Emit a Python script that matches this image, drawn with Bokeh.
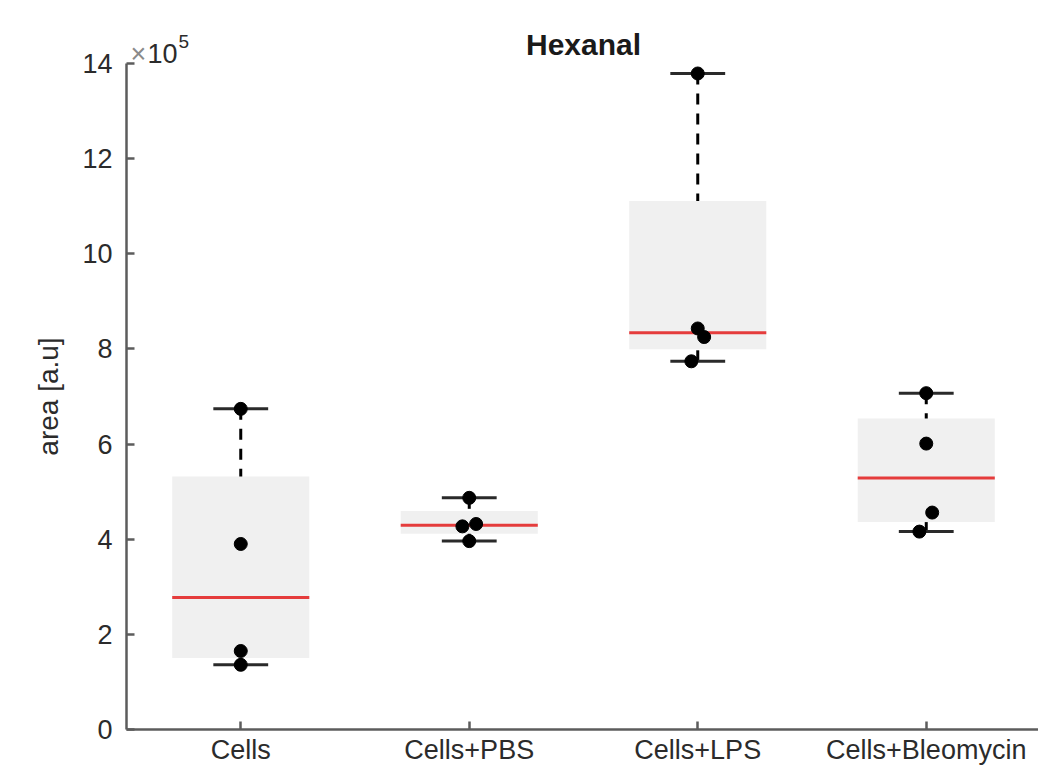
import numpy as np
from bokeh.plotting import figure
from bokeh.models import FixedTicker, Label, ColumnDataSource
from bokeh.embed import file_html
from bokeh.resources import INLINE

# ---- data (area in units of 1e5 a.u.) ----
categories = ["Cells", "Cells+PBS", "Cells+LPS", "Cells+Bleomycin"]
cells = [6.74, 3.90, 1.65, 1.36]
cells_pbs = [4.87, 4.32, 4.27, 3.96]
cells_lps = [13.79, 8.43, 8.25, 7.74]
cells_bleo = [7.07, 6.01, 4.56, 4.16]
# horizontal jitter of the individual points (category units)
jitter_cells = [0.0, 0.0, 0.0, 0.0]
jitter_pbs = [0.0, 0.03, -0.03, 0.0]
jitter_lps = [0.0, 0.0, 0.028, -0.028]
jitter_bleo = [0.0, 0.0, 0.026, -0.03]
y_ticks = [0, 2, 4, 6, 8, 10, 12, 14]

groups = [cells, cells_pbs, cells_lps, cells_bleo]
jitters = [jitter_cells, jitter_pbs, jitter_lps, jitter_bleo]


def mprctile(v, pct):
    s = sorted(v)
    n = len(s)
    pos = [100.0 * (i + 0.5) / n for i in range(n)]
    return float(np.interp(pct, pos, s))


BOX_HALF = 0.3
CAP_HALF = 0.12

xs, q1s, q3s, meds, los, his = [], [], [], [], [], []
for i, g in enumerate(groups):
    q1 = mprctile(g, 25)
    q3 = mprctile(g, 75)
    iqr = q3 - q1
    inside = [v for v in g if q1 - 1.5 * iqr <= v <= q3 + 1.5 * iqr]
    xs.append(i + 1)
    q1s.append(q1)
    q3s.append(q3)
    meds.append(mprctile(g, 50))
    los.append(min(inside))
    his.append(max(inside))

box = ColumnDataSource(dict(
    x=xs, q1=q1s, q3=q3s, med=meds, lo=los, hi=his,
    bl=[x - BOX_HALF for x in xs], br=[x + BOX_HALF for x in xs],
    cl=[x - CAP_HALF for x in xs], cr=[x + CAP_HALF for x in xs],
))

px, py = [], []
for i, (g, j) in enumerate(zip(groups, jitters)):
    for v, d in zip(g, j):
        px.append(i + 1 + d)
        py.append(v)
pts = ColumnDataSource(dict(x=px, y=py))

FONT = "Liberation Sans"
TXT = "#2b2b2b"
AX = "#5c5c5c"

W, H = 1038, 766
# frame spans the whole canvas; axes are pinned at x=0.5 / y=0
AXIS_X, TOP_Y, BOT_Y = 126, 63, 729   # canvas px of x=0.5, y=14, y=0
XPX = 228.5                            # px per category unit
YPX = (BOT_Y - TOP_Y) / 14.0           # px per 1e5
x_start = 0.5 - AXIS_X / XPX
x_end = x_start + W / XPX
y_end = 14 + TOP_Y / YPX
y_start = -(H - BOT_Y) / YPX

p = figure(width=W, height=H, x_range=(x_start, x_end), y_range=(y_start, y_end),
           output_backend="svg", toolbar_location=None, min_border=0)
p.outline_line_color = None
p.background_fill_color = "white"
p.border_fill_color = "white"
p.xgrid.visible = False
p.ygrid.visible = False
p.title.visible = False

# axes
p.yaxis.ticker = FixedTicker(ticks=y_ticks)
p.yaxis.bounds = (0, 14)
p.yaxis.fixed_location = 0.5
p.yaxis.axis_label = "area [a.u]"
p.yaxis.axis_label_text_font = FONT
p.yaxis.axis_label_text_font_size = "28px"
p.yaxis.axis_label_text_font_style = "normal"
p.yaxis.axis_label_text_color = TXT
p.yaxis.axis_label_standoff = 15
p.yaxis.major_label_standoff = 14

p.xaxis.ticker = FixedTicker(ticks=[1, 2, 3, 4])
p.xaxis.bounds = (0.5, 4.5)
p.xaxis.fixed_location = 0
p.xaxis.major_label_overrides = {i + 1: c for i, c in enumerate(categories)}
p.xaxis.major_label_standoff = 5

for ax in (p.xaxis, p.yaxis):
    ax.axis_line_color = AX
    ax.axis_line_width = 2.5
    ax.major_tick_line_color = AX
    ax.major_tick_line_width = 2.5
    ax.major_tick_in = 8
    ax.major_tick_out = 0
    ax.minor_tick_line_color = None
    ax.major_label_text_font = FONT
    ax.major_label_text_font_size = "27px"
    ax.major_label_text_color = TXT

# title (vertically centred 19 px above the top of the axis)
p.add_layout(Label(x=2.5, y=14, y_offset=19, text="Hexanal", text_align="center",
                   text_baseline="middle", text_font=FONT, text_font_size="30px",
                   text_font_style="bold", text_color="#1a1a1a"))
# exponent label
p.add_layout(Label(x=0.5, y=14, x_offset=4, y_offset=10, text="×", text_font=FONT,
                   text_font_size="27px", text_color="#8a8a8a", text_baseline="middle"))
p.add_layout(Label(x=0.5, y=14, x_offset=21, y_offset=10, text="10", text_font=FONT,
                   text_font_size="27px", text_color=TXT, text_baseline="middle"))
p.add_layout(Label(x=0.5, y=14, x_offset=52, y_offset=22, text="5", text_font=FONT,
                   text_font_size="19px", text_color=TXT, text_baseline="middle"))

# boxes
p.vbar(x="x", width=2 * BOX_HALF, bottom="q1", top="q3", source=box,
       fill_color="#f0f0f0", line_color=None)
# medians
p.segment(x0="bl", x1="br", y0="med", y1="med", source=box,
          line_color="#e53c3c", line_width=3)
# whiskers
p.segment(x0="x", x1="x", y0="hi", y1="q3", source=box,
          line_color="black", line_width=3, line_dash="11 9")
p.segment(x0="x", x1="x", y0="lo", y1="q1", source=box,
          line_color="black", line_width=3, line_dash="11 9")
# caps
p.segment(x0="cl", x1="cr", y0="hi", y1="hi", source=box,
          line_color="#2a2a2a", line_width=3)
p.segment(x0="cl", x1="cr", y0="lo", y1="lo", source=box,
          line_color="#2a2a2a", line_width=3)
# points
p.scatter(x="x", y="y", source=pts, size=13, fill_color="black", line_color="black")

open("out.html", "w").write(file_html(p, INLINE))
